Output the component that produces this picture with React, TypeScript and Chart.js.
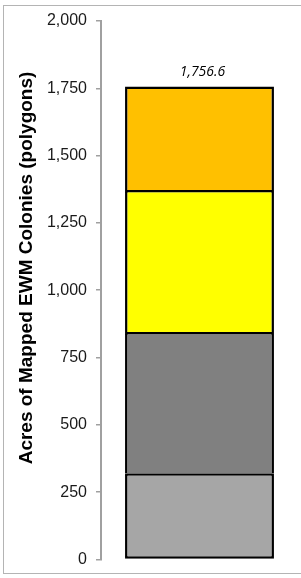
import React, { useEffect, useRef } from "react";
import { Chart, registerables } from "chart.js";

Chart.register(...registerables);

const categories = [""];
const segmentLabels = ["Segment 1", "Segment 2", "Segment 3", "Segment 4"];
const segment1 = [320];
const segment2 = [525];
const segment3 = [527];
const segment4 = [384.6];
const segmentColors = ["#A6A6A6", "#808080", "#FFFF00", "#FFC000"];
const totalLabels = ["1,756.6"];
const yTicks = [0, 250, 500, 750, 1000, 1250, 1500, 1750, 2000];
const yTitle = "Acres of Mapped EWM Colonies (polygons)";

const titlePlugin = {
  id: "sideTitle",
  afterDraw(chart: any) {
    const ctx = chart.ctx;
    ctx.save();
    ctx.translate(27, 268);
    ctx.rotate(-Math.PI / 2);
    ctx.font = "bold 19px 'Liberation Sans', Arial, sans-serif";
    ctx.fillStyle = "#000";
    ctx.textAlign = "center";
    ctx.textBaseline = "middle";
    ctx.fillText(yTitle, 0, 0);
    ctx.restore();
  },
};

const totalPlugin = {
  id: "totalLabel",
  afterDatasetsDraw(chart: any) {
    const ctx = chart.ctx;
    const yScale = chart.scales.y;
    const xScale = chart.scales.x;
    const all = [segment1, segment2, segment3, segment4];
    categories.forEach((_c, i) => {
      const total = all.reduce((s, a) => s + a[i], 0);
      const x = xScale.getPixelForValue(i);
      const y = yScale.getPixelForValue(total);
      ctx.save();
      ctx.font = "italic 14px 'Open Sans', sans-serif";
      ctx.fillStyle = "#000";
      ctx.textAlign = "center";
      ctx.textBaseline = "alphabetic";
      ctx.fillText(totalLabels[i], x + 3, y - 11);
      ctx.restore();
    });
  },
};

export default function App() {
  const ref = useRef<HTMLCanvasElement>(null);
  useEffect(() => {
    if (!ref.current) return;
    const data = [segment1, segment2, segment3, segment4];
    const chart = new Chart(ref.current, {
      type: "bar",
      data: {
        labels: categories,
        datasets: data.map((d, i) => ({
          label: segmentLabels[i],
          data: d,
          backgroundColor: segmentColors[i],
          borderColor: "#000",
          borderWidth: i === 0 ? 2.5 : { top: 2.5, left: 2.5, right: 2.5, bottom: 0 },
          borderSkipped: false,
          categoryPercentage: 1,
          barPercentage: 0.756,
        })),
      },
      options: {
        animation: false,
        responsive: false,
        maintainAspectRatio: false,
        layout: { padding: { top: 21, bottom: 15.4, left: 0, right: 3 } },
        plugins: {
          legend: { display: false },
          tooltip: { enabled: false },
        },
        scales: {
          x: {
            stacked: true,
            display: false,
          },
          y: {
            stacked: true,
            min: 0,
            max: 2000,
            afterFit(scale: any) {
              scale.width = 101;
            },
            afterBuildTicks(scale: any) {
              scale.ticks = yTicks.map((v) => ({ value: v }));
            },
            ticks: {
              padding: 9,
              color: "#1a1a1a",
              font: { family: "'Liberation Sans', Arial, sans-serif", size: 16 },
              callback: (v: any) => Number(v).toLocaleString("en-US"),
            },
            grid: {
              drawOnChartArea: false,
              drawTicks: true,
              tickLength: 5,
              color: "#a0a0a0",
              lineWidth: 1.5,
            },
            border: { display: true, color: "#a0a0a0", width: 2 },
          },
        },
      },
      plugins: [titlePlugin, totalPlugin],
    });
    return () => chart.destroy();
  }, []);
  return (
    <div style={{ position: "fixed", left: 0, top: 0, width: 301, height: 578, background: "#fff", overflow: "hidden" }}>
      <div
        style={{
          position: "absolute",
          left: 3,
          top: 5,
          width: 320,
          height: 569,
          border: "1px solid #b4b4b4",
          boxSizing: "border-box",
        }}
      />
      <canvas ref={ref} width={301} height={578} style={{ position: "absolute", left: 0, top: 0, width: 301, height: 578 }} />
    </div>
  );
}
